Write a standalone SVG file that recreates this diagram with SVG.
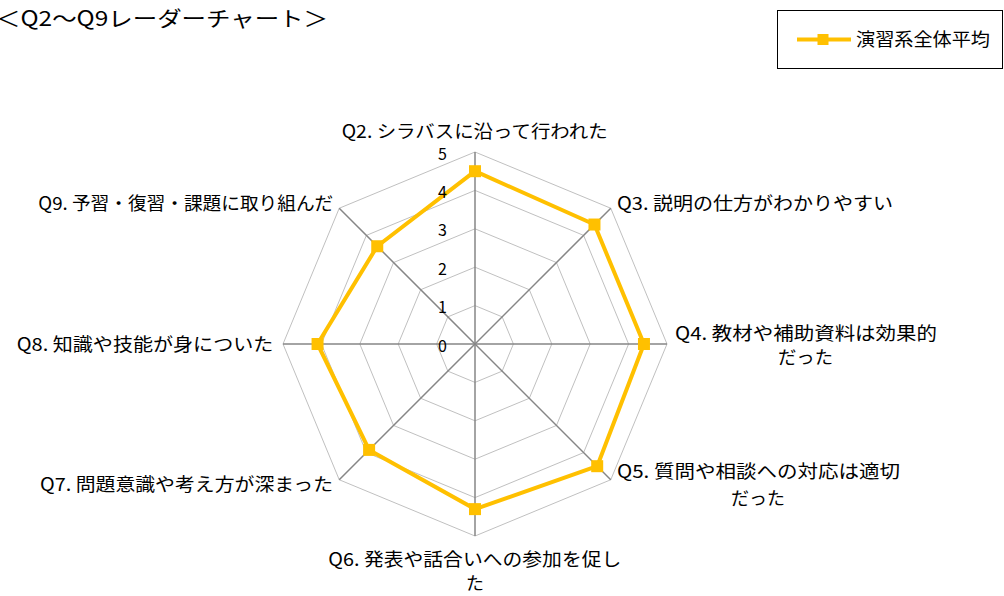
<svg xmlns="http://www.w3.org/2000/svg" width="1004" height="596" viewBox="0 0 1004 596">
<style>
text{font-family:"Noto Sans CJK JP","Liberation Sans",sans-serif;fill:#000;}
.lbl{font-size:18px;}
.num{font-size:16px;text-anchor:end;}
.ring{fill:none;stroke:#C0C0C0;stroke-width:1;}
.axis{stroke:#868686;stroke-width:1.5;}
.series{fill:none;stroke:#FFC000;stroke-width:4;stroke-linejoin:round;}
.mk{fill:#FFC000;}
</style>
<rect width="1004" height="596" fill="#fff"/>
<text id="title" x="-4" y="26" font-size="21" textLength="332" lengthAdjust="spacingAndGlyphs">＜Q2～Q9レーダーチャート＞</text>
<g id="legend">
<rect x="777.5" y="10.5" width="225" height="58" fill="#fff" stroke="#000" stroke-width="1"/>
<line x1="797" y1="39.5" x2="851" y2="39.5" stroke="#FFC000" stroke-width="4"/>
<rect class="mk" x="817.5" y="34" width="11" height="11"/>
<text class="lbl" x="856" y="46" textLength="134" lengthAdjust="spacingAndGlyphs">演習系全体平均</text>
</g>
<g id="grid">
<polygon class="ring" points="475,305.6 502.15,316.85 513.4,344 502.15,371.15 475,382.4 447.85,371.15 436.6,344 447.85,316.85"/>
<polygon class="ring" points="475,267.2 529.31,289.69 551.8,344 529.31,398.31 475,420.8 420.69,398.31 398.2,344 420.69,289.69"/>
<polygon class="ring" points="475,228.8 556.46,262.54 590.2,344 556.46,425.46 475,459.2 393.54,425.46 359.8,344 393.54,262.54"/>
<polygon class="ring" points="475,190.4 583.61,235.39 628.6,344 583.61,452.61 475,497.6 366.39,452.61 321.4,344 366.39,235.39"/>
<polygon class="ring" points="475,152 610.76,208.24 667,344 610.76,479.76 475,536 339.24,479.76 283,344 339.24,208.24"/>
</g>
<g id="axes">
<line class="axis" x1="475" y1="344" x2="475" y2="152"/>
<line class="axis" x1="475" y1="344" x2="610.76" y2="208.24"/>
<line class="axis" x1="475" y1="344" x2="667" y2="344"/>
<line class="axis" x1="475" y1="344" x2="610.76" y2="479.76"/>
<line class="axis" x1="475" y1="344" x2="475" y2="536"/>
<line class="axis" x1="475" y1="344" x2="339.24" y2="479.76"/>
<line class="axis" x1="475" y1="344" x2="283" y2="344"/>
<line class="axis" x1="475" y1="344" x2="339.24" y2="208.24"/>
</g>
<g id="series">
<polygon class="series" points="475,171.2 594.47,224.53 643.96,344 597.19,466.19 475,509.12 369.1,449.9 317.56,344 377.25,246.25"/>
<rect class="mk" x="469" y="165.2" width="12" height="12"/>
<rect class="mk" x="588.47" y="218.53" width="12" height="12"/>
<rect class="mk" x="637.96" y="338" width="12" height="12"/>
<rect class="mk" x="591.19" y="460.19" width="12" height="12"/>
<rect class="mk" x="469" y="503.12" width="12" height="12"/>
<rect class="mk" x="363.1" y="443.9" width="12" height="12"/>
<rect class="mk" x="311.56" y="338" width="12" height="12"/>
<rect class="mk" x="371.25" y="240.25" width="12" height="12"/>
</g>
<g id="scale">
<text class="num" x="447" y="351.5">0</text>
<text class="num" x="447" y="313.2">1</text>
<text class="num" x="447" y="274.8">2</text>
<text class="num" x="447" y="236.4">3</text>
<text class="num" x="447" y="198">4</text>
<text class="num" x="447" y="159.6">5</text>
</g>
<g id="q2"><text class="lbl" x="341.7" y="138" textLength="266" lengthAdjust="spacingAndGlyphs">Q2. シラバスに沿って行われた</text></g>
<g id="q3"><text class="lbl" x="617" y="210" textLength="276" lengthAdjust="spacingAndGlyphs">Q3. 説明の仕方がわかりやすい</text></g>
<g id="q4"><text class="lbl" x="675" y="340" textLength="262" lengthAdjust="spacingAndGlyphs">Q4. 教材や補助資料は効果的</text>
<text class="lbl" x="778" y="363.5" textLength="55" lengthAdjust="spacingAndGlyphs">だった</text></g>
<g id="q5"><text class="lbl" x="617" y="478" textLength="283" lengthAdjust="spacingAndGlyphs">Q5. 質問や相談への対応は適切</text>
<text class="lbl" x="731" y="504.5" textLength="54" lengthAdjust="spacingAndGlyphs">だった</text></g>
<g id="q6"><text class="lbl" x="328.3" y="566" textLength="293" lengthAdjust="spacingAndGlyphs">Q6. 発表や話合いへの参加を促し</text>
<text class="lbl" x="475" y="590" text-anchor="middle">た</text></g>
<g id="q7"><text class="lbl" x="40" y="491" textLength="293" lengthAdjust="spacingAndGlyphs">Q7. 問題意識や考え方が深まった</text></g>
<g id="q8"><text class="lbl" x="16.7" y="351" textLength="256.6" lengthAdjust="spacingAndGlyphs">Q8. 知識や技能が身についた</text></g>
<g id="q9"><text class="lbl" x="38.3" y="210" textLength="295" lengthAdjust="spacingAndGlyphs">Q9. 予習・復習・課題に取り組んだ</text></g>
</svg>
